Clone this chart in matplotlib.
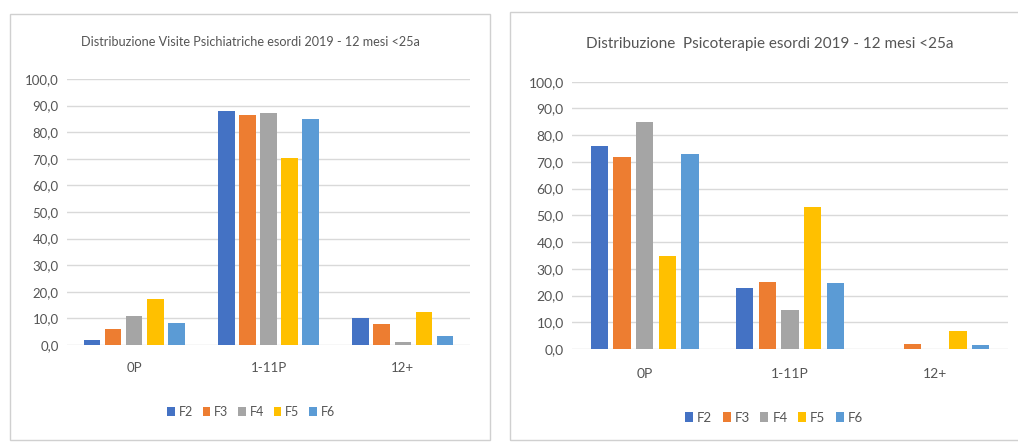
import matplotlib
matplotlib.use("Agg")
import matplotlib.pyplot as plt
from matplotlib.patches import Rectangle, Patch
import numpy as np

plt.rcParams['font.family'] = ['Lato', 'DejaVu Sans']

# Data
categories = ["0P", "1-11P", "12+"]
series_names = ["F2", "F3", "F4", "F5", "F6"]
colors = ["#4472C4", "#ED7D31", "#A5A5A5", "#FFC000", "#5B9BD5"]

visite_F2 = [1.9, 88.0, 10.0]
visite_F3 = [6.2, 86.3, 7.9]
visite_F4 = [10.9, 87.2, 1.3]
visite_F5 = [17.2, 70.2, 12.3]
visite_F6 = [8.4, 84.8, 3.2]

psico_F2 = [76.1, 22.9, 0.0]
psico_F3 = [71.9, 25.2, 2.0]
psico_F4 = [84.8, 14.6, 0.0]
psico_F5 = [34.8, 53.0, 6.7]
psico_F6 = [72.8, 24.8, 1.5]

yticks = np.arange(0, 101, 10)
ytick_labels = [f"{v:.1f}".replace(".", ",") for v in yticks]

title_left = "Distribuzione Visite Psichiatriche esordi 2019 - 12 mesi <25a"
title_right = "Distribuzione  Psicoterapie esordi 2019 - 12 mesi <25a"

W, H = 1018, 442
fig = plt.figure(figsize=(W / 100, H / 100), dpi=100)
fig.patch.set_facecolor("white")

text_col = "#555555"
grid_col = "#D9D9D9"


def px_axes(x0, y0, x1, y1):
    return fig.add_axes([x0 / W, 1 - y1 / H, (x1 - x0) / W, (y1 - y0) / H])


def draw_panel(ax, data, step, width, fs_tick, fs_cat, cat_pad):
    x = np.arange(len(categories))
    for i, (vals, col) in enumerate(zip(data, colors)):
        ax.bar(x + (i - 2) * step, vals, width=width, color=col, zorder=3)
    ax.set_xlim(-0.5, len(categories) - 0.5)
    ax.set_ylim(0, 100)
    ax.set_yticks(yticks)
    ax.set_yticklabels(ytick_labels, fontsize=fs_tick, color=text_col)
    ax.set_xticks(x)
    ax.set_xticklabels(categories, fontsize=fs_cat, color=text_col)
    ax.tick_params(axis="both", length=0)
    ax.tick_params(axis="x", pad=cat_pad)
    ax.tick_params(axis="y", pad=6)
    ax.grid(axis="y", color=grid_col, linewidth=1, zorder=0)
    for s in ax.spines.values():
        s.set_visible(False)
    ax.set_facecolor("none")


# Panel frames
fig.patches.append(Rectangle((10 / W, 1 - 440 / H), 480 / W, 426 / H,
                             transform=fig.transFigure, fill=False,
                             edgecolor="#D0D0D0", linewidth=1))
fig.patches.append(Rectangle((510 / W, 1 - 440 / H), 520 / W, 428 / H,
                             transform=fig.transFigure, fill=False,
                             edgecolor="#D0D0D0", linewidth=1))

ax1 = px_axes(67, 79, 470, 345)
draw_panel(ax1, [visite_F2, visite_F3, visite_F4, visite_F5, visite_F6],
           step=0.157, width=0.124, fs_tick=9.5, fs_cat=9.5, cat_pad=12)

ax2 = px_axes(572, 81.7, 1008, 349)
draw_panel(ax2, [psico_F2, psico_F3, psico_F4, psico_F5, psico_F6],
           step=0.156, width=0.118, fs_tick=10, fs_cat=10, cat_pad=14)

fig.text(250 / W, 1 - 42 / H, title_left, ha="center", va="center",
         fontsize=9.1, color=text_col)
fig.text(770 / W, 1 - 44 / H, title_right, ha="center", va="center",
         fontsize=11, color=text_col)

handles = [Patch(facecolor=c, edgecolor="none") for c in colors]
fig.legend(handles, series_names, loc="center", bbox_to_anchor=(251 / W, 1 - 412 / H),
           ncol=5, frameon=False, fontsize=9, handlelength=0.6, handleheight=0.8,
           handletextpad=0.3, columnspacing=0.8, labelcolor=text_col)
fig.legend(handles, series_names, loc="center", bbox_to_anchor=(774 / W, 1 - 418 / H),
           ncol=5, frameon=False, fontsize=9.5, handlelength=0.6, handleheight=0.8,
           handletextpad=0.3, columnspacing=0.8, labelcolor=text_col)

fig.savefig("out.png", dpi=100)
